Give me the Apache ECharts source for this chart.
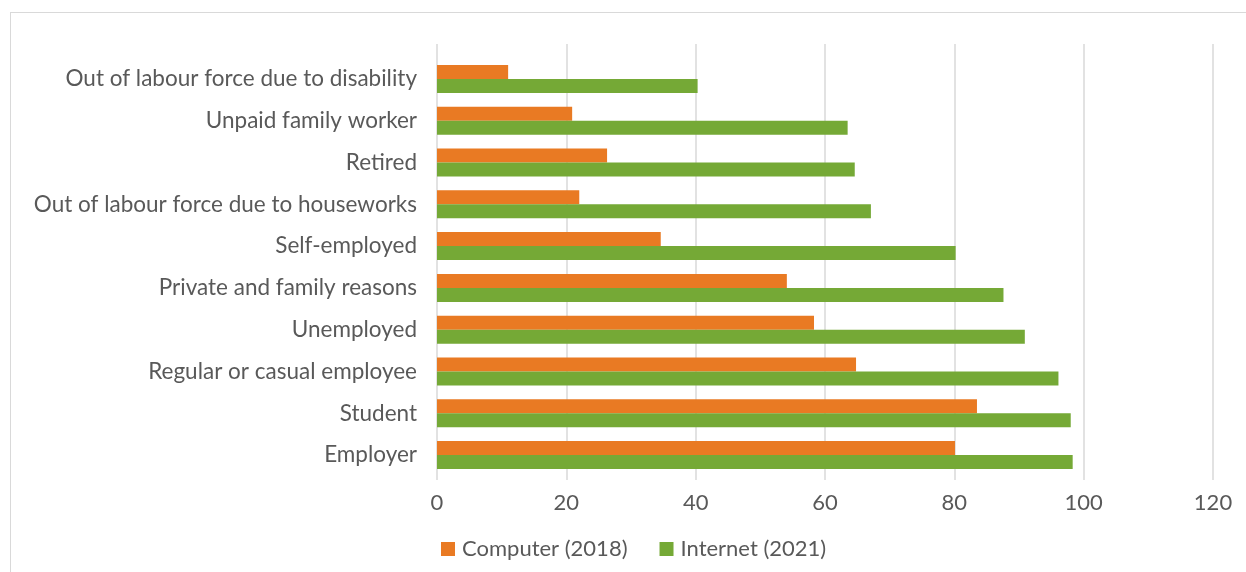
<!DOCTYPE html>
<html>
<head>
<meta charset="utf-8">
<script src="https://cdn.jsdelivr.net/npm/echarts@6/dist/echarts.min.js"></script>
<style>
html,body{margin:0;padding:0;background:#fff;}
#frame{position:absolute;left:10px;top:12px;width:1250px;height:600px;border:1.5px solid #d9d9d9;box-sizing:border-box;}
#chart{position:absolute;left:0;top:0;width:1246px;height:572px;}
</style>
</head>
<body>
<div id="frame"></div>
<div id="chart"></div>
<script>
const categories = ['Employer','Student','Regular or casual employee','Unemployed','Private and family reasons','Self-employed','Out of labour force due to houseworks','Retired','Unpaid family worker','Out of labour force due to disability'];
const computer2018 = [80.1, 83.5, 64.8, 58.3, 54.1, 34.6, 22.0, 26.3, 20.9, 11.0];
const internet2021 = [98.3, 98.0, 96.1, 90.9, 87.6, 80.2, 67.1, 64.6, 63.5, 40.3];
const xTicks = {min: 0, max: 120, interval: 20};

const font = 'Lato, "Open Sans", sans-serif';
const gray = '#595959';
const chart = echarts.init(document.getElementById('chart'), null, {renderer: 'canvas'});
chart.setOption({
  animation: false,
  backgroundColor: 'transparent',
  grid: [
    {left: 437, right: 33, top: 44, bottom: 92, containLabel: false},
    {left: 437, right: 33, top: 58, bottom: 96, containLabel: false}
  ],
  legend: {
    data: ['Computer (2018)', 'Internet (2021)'],
    left: 436, top: 533,
    itemWidth: 14, itemHeight: 14, itemGap: 32,
    icon: 'rect',
    textStyle: {color: gray, fontSize: 22, fontFamily: font, padding: [0,0,0,2]}
  },
  xAxis: [
    {
      gridIndex: 0, type: 'value', min: xTicks.min, max: xTicks.max, interval: xTicks.interval,
      axisLine: {show: false}, axisTick: {show: false},
      splitLine: {lineStyle: {color: '#d9d9d9', width: 1.5}},
      axisLabel: {color: gray, fontSize: 22, fontFamily: font, margin: 12}
    },
    {
      gridIndex: 1, type: 'value', min: xTicks.min, max: xTicks.max, interval: xTicks.interval,
      axisLine: {show: false}, axisTick: {show: false},
      splitLine: {show: false}, axisLabel: {show: false}
    }
  ],
  yAxis: [
    {gridIndex: 0, type: 'category', data: categories, show: false},
    {
      gridIndex: 1, type: 'category', data: categories,
      axisLine: {show: false},
      axisTick: {show: false},
      axisLabel: {color: gray, fontSize: 22.5, fontFamily: font, margin: 20}
    }
  ],
  series: [
    {name: 'Computer (2018)', type: 'bar', xAxisIndex: 1, yAxisIndex: 1, data: computer2018, itemStyle: {color: '#E97A23'}, barGap: '0%', barCategoryGap: '33%'},
    {name: 'Internet (2021)', type: 'bar', xAxisIndex: 1, yAxisIndex: 1, data: internet2021, itemStyle: {color: '#75A936'}, barGap: '0%', barCategoryGap: '33%'}
  ]
});
</script>
</body>
</html>
